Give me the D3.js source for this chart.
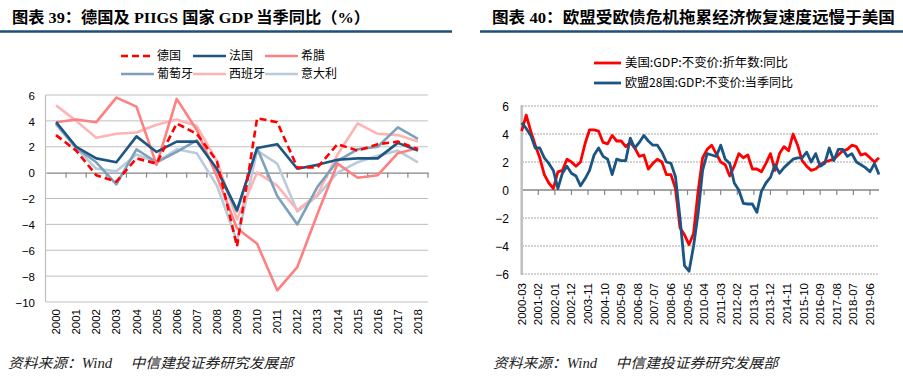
<!DOCTYPE html>
<html>
<head>
<meta charset="utf-8">
<script src="https://cdn.jsdelivr.net/npm/d3@7"></script>
<style>
body{margin:0;background:#fff;}
svg{display:block;}
text{font-family:"Liberation Sans",Arial,"Noto Sans CJK SC",sans-serif;}
</style>
</head>
<body>
<svg width="903" height="385"></svg>
<script>
//left chart: annual gdp growth, germany + piigs
var years = ['2000','2001','2002','2003','2004','2005','2006','2007','2008','2009','2010','2011','2012','2013','2014','2015','2016','2017','2018'];
var germany  = [2.9,1.7,-0.2,-0.7,1.1,0.7,3.8,3.0,0.9,-5.7,4.2,3.9,0.4,0.4,2.2,1.7,2.2,2.4,1.8];
var france   = [3.9,2.0,1.1,0.8,2.8,1.6,2.4,2.4,0.3,-2.9,1.9,2.2,0.3,0.6,1.0,1.1,1.1,2.3,1.7];
var greece   = [3.9,4.1,3.9,5.8,5.1,0.6,5.7,3.3,-0.3,-4.3,-5.5,-9.1,-7.3,-3.2,0.7,-0.4,-0.2,1.5,1.9];
var portugal = [3.8,1.9,0.8,-0.9,1.8,0.8,1.6,2.5,0.2,-3.0,1.9,-1.8,-4.0,-1.1,0.9,1.8,2.0,3.5,2.6];
var spain    = [5.2,4.0,2.7,3.0,3.1,3.7,4.1,3.6,0.9,-3.6,0.0,-1.0,-2.9,-1.7,1.4,3.8,3.0,2.9,2.4];
var italy    = [3.7,1.9,0.3,0.1,1.4,0.8,1.8,1.5,-1.0,-5.3,1.7,0.7,-3.0,-1.8,0.0,0.8,1.3,1.7,0.8];
var leftTicks = [6,4,2,0,-2,-4,-6,-8,-10];

//right chart: quarterly yoy, us vs eu28, 2000-03 .. 2019-12
var firstQuarter = '2000-03';
var usGdp = [4.2,5.35,4.2,3.2,2.3,1.1,0.5,0.1,1.3,1.4,2.2,2.0,1.7,2.0,3.3,4.3,4.3,4.2,3.4,3.3,
  3.9,3.5,3.5,3.1,3.4,3.0,2.4,2.5,1.5,1.9,2.2,2.0,1.1,1.1,0.1,-2.7,-3.2,-3.9,-3.1,-0.1,
  2.3,2.9,3.2,2.6,2.0,1.8,1.0,1.7,2.6,2.3,2.5,1.5,1.5,1.3,1.9,2.6,1.4,2.6,3.1,2.8,
  4.0,3.2,2.1,1.7,1.4,1.5,1.8,2.0,2.1,2.2,2.5,2.8,2.9,3.2,3.1,2.5,2.6,2.3,2.0,2.3];
var euGdp = [4.8,4.4,3.9,3.0,3.0,2.3,1.9,1.4,0.1,1.2,1.7,1.2,1.0,0.3,0.8,1.4,2.5,3.0,2.4,2.2,
  1.1,2.2,2.1,2.1,3.7,3.0,3.4,3.9,3.5,3.2,3.2,2.7,2.0,1.9,0.95,-2.0,-5.4,-5.8,-4.0,-1.7,
  1.4,2.6,2.5,2.4,3.2,2.2,1.9,0.5,0.0,-0.95,-1.0,-1.0,-1.6,-0.1,0.5,0.9,1.8,1.2,1.6,1.9,
  2.2,2.3,2.3,2.7,2.0,2.6,1.7,1.9,3.0,2.1,2.9,2.9,2.4,2.6,2.0,1.8,1.6,1.3,1.9,1.1];
var rightLabels = ['2000-03','2001-02','2002-01','2002-12','2003-11','2004-10','2005-09','2006-08','2007-07','2008-06','2009-05','2010-04','2011-03','2012-02','2013-01','2013-12','2014-11','2015-10','2016-09','2017-08','2018-07','2019-06'];
var rightTicks = [6,4,2,0,-2,-4,-6];

var svg = d3.select('svg');
var titleBlue = '#1F4E79';

function monthIndex(s){
	var p = s.split('-');
	var f = firstQuarter.split('-');
	return (Number(p[0]) - Number(f[0])) * 12 + Number(p[1]) - Number(f[1]);
}

//titles + underline bars
function title(txt, x, len, x1, x2){
	svg.append('text').attr('x',x).attr('y',23).attr('font-size',15.5).attr('font-weight','bold')
		.style('font-family','"Liberation Serif","Times New Roman","Noto Sans CJK SC",serif')
		.attr('textLength',len).attr('lengthAdjust','spacingAndGlyphs').text(txt);
	svg.append('line').attr('x1',x1).attr('x2',x2).attr('y1',31.5).attr('y2',31.5)
		.attr('stroke',titleBlue).attr('stroke-width',2.5);
}
title('图表 39：德国及 PIIGS 国家 GDP 当季同比（%）', 12, 358, 0, 452);
title('图表 40：欧盟受欧债危机拖累经济恢复速度远慢于美国', 492, 403, 480, 903);

//footers
function footer(x){
	svg.append('text').attr('x',x).attr('y',368).attr('font-size',14).attr('font-style','italic')
		.attr('fill','#222').style('font-family','"Liberation Serif","Noto Sans CJK SC",serif')
		.attr('textLength',285).attr('lengthAdjust','spacingAndGlyphs')
		.text('资料来源：Wind　 中信建投证券研究发展部');
}
footer(8);
footer(493);

// ---------- left chart ----------
var lx = d3.scaleBand().domain(years).range([46, 428]);
var ly = d3.scaleLinear().domain([-10, 6]).range([302, 95]);
var left = svg.append('g');

left.selectAll('.grid').data(leftTicks.filter(function(d){return d !== 0;})).enter().append('line')
	.attr('x1',46).attr('x2',428).attr('y1',function(d){return ly(d)}).attr('y2',function(d){return ly(d)})
	.attr('stroke','#BFBFBF').attr('stroke-width',1);
left.append('line').attr('x1',45.5).attr('x2',45.5).attr('y1',ly(6)).attr('y2',ly(-10))
	.attr('stroke','#BFBFBF').attr('stroke-width',1.2);

var lyAxis = d3.axisLeft(ly).tickValues(leftTicks).tickSize(0).tickPadding(0).tickFormat(d3.format('d'));
left.append('g').attr('transform','translate(35,0)').call(lyAxis)
	.call(function(g){g.select('.domain').remove();})
	.selectAll('text').attr('font-size',11.5).attr('fill','#000').attr('dy','0.36em')
	.style('font-family','"Liberation Sans",Arial,sans-serif');

//zero line with ticks between categories
var lxAxis = d3.axisBottom(lx).tickSize(0).tickFormat('');
left.append('g').attr('transform','translate(0,' + ly(0) + ')').call(lxAxis)
	.call(function(g){g.select('.domain').attr('stroke','#868686').attr('stroke-width',1.3);});
left.selectAll('.ztick').data(years.slice(1).concat(['end'])).enter().append('line')
	.attr('x1',function(d,i){return lx.range()[0] + lx.step()*(i+1)})
	.attr('x2',function(d,i){return lx.range()[0] + lx.step()*(i+1)})
	.attr('y1',ly(0)).attr('y2',ly(0)+5).attr('stroke','#868686').attr('stroke-width',1.2);

left.selectAll('.xl').data(years).enter().append('text')
	.attr('transform',function(d){return 'translate(' + (lx(d) + lx.bandwidth()/2) + ',309) rotate(-90)'})
	.attr('text-anchor','end').attr('dy','0.35em').attr('font-size',11.5).text(function(d){return d});

var leftSeries = [
	{name:'德国', vals:germany, color:'#FF0000', dash:'7,4', lx:121, ly:56},
	{name:'法国', vals:france, color:'#1F5582', dash:null, lx:193, ly:56},
	{name:'希腊', vals:greece, color:'#FF8080', dash:null, lx:265, ly:56},
	{name:'葡萄牙', vals:portugal, color:'#7FA0BC', dash:null, lx:121, ly:74},
	{name:'西班牙', vals:spain, color:'#FFB4B4', dash:null, lx:193, ly:74},
	{name:'意大利', vals:italy, color:'#B8CCDC', dash:null, lx:265, ly:74}
];
var leftLine = d3.line().x(function(d,i){return lx(years[i]) + lx.bandwidth()/2}).y(function(d){return ly(d)});

//draw back to front so germany sits on top
leftSeries.slice().reverse().forEach(function(s){
	left.append('path').datum(s.vals).attr('d',leftLine).attr('fill','none')
		.attr('stroke',s.color).attr('stroke-width',2.6).attr('stroke-linejoin','round')
		.attr('stroke-dasharray',s.dash);
});
leftSeries.forEach(function(s){
	left.append('line').attr('x1',s.lx).attr('x2',s.lx+33).attr('y1',s.ly).attr('y2',s.ly)
		.attr('stroke',s.color).attr('stroke-width',2.6).attr('stroke-dasharray',s.dash);
	left.append('text').attr('x',s.lx+36).attr('y',s.ly).attr('dy','0.36em').attr('font-size',12)
		.style('font-family','"Noto Sans CJK SC",sans-serif').text(s.name);
});

// ---------- right chart ----------
var lastMonth = monthIndex(firstQuarter) + (usGdp.length - 1) * 3;
var rx = d3.scaleLinear().domain([0, lastMonth]).range([521.7, 879]);
var ry = d3.scaleLinear().domain([-6, 6]).range([274, 106]);
var right = svg.append('g');

right.selectAll('.grid').data(rightTicks.filter(function(d){return d !== 0;})).enter().append('line')
	.attr('x1',522).attr('x2',879).attr('y1',function(d){return ry(d)}).attr('y2',function(d){return ry(d)})
	.attr('stroke','#A6A6A6').attr('stroke-width',1).attr('stroke-dasharray','2,1');
right.append('line').attr('x1',rx(0)).attr('x2',rx(lastMonth)).attr('y1',ry(0)).attr('y2',ry(0))
	.attr('stroke','#868686').attr('stroke-width',1.3);
right.selectAll('.ztick').data(rightLabels.slice(1)).enter().append('line')
	.attr('x1',function(d){return rx(monthIndex(d))}).attr('x2',function(d){return rx(monthIndex(d))})
	.attr('y1',ry(0)).attr('y2',ry(0)+5).attr('stroke','#868686').attr('stroke-width',1.2);
right.append('line').attr('x1',rx(0)).attr('x2',rx(0)).attr('y1',ry(6)-1).attr('y2',ry(-6)+1)
	.attr('stroke','#BFBFBF').attr('stroke-width',2.5);

var ryAxis = d3.axisLeft(ry).tickValues(rightTicks).tickSize(0).tickPadding(0).tickFormat(d3.format('d'));
right.append('g').attr('transform','translate(509,0)').call(ryAxis)
	.call(function(g){g.select('.domain').remove();})
	.selectAll('text').attr('font-size',12).attr('fill','#000').attr('dy','0.36em')
	.style('font-family','"Liberation Sans",Arial,sans-serif');

right.selectAll('.xl').data(rightLabels).enter().append('text')
	.attr('transform',function(d){return 'translate(' + rx(monthIndex(d)) + ',283) rotate(-90)'})
	.attr('text-anchor','end').attr('dy','0.35em').attr('font-size',11.5).text(function(d){return d});

var rightLine = d3.line().x(function(d,i){return rx(i*3)}).y(function(d){return ry(d)});
var rightSeries = [
	{name:'美国:GDP:不变价:折年数:同比', vals:usGdp, color:'#FF0000', y:63, len:163},
	{name:'欧盟28国:GDP:不变价:当季同比', vals:euGdp, color:'#1A5583', y:83, len:168}
];
rightSeries.forEach(function(s){
	right.append('path').datum(s.vals).attr('d',rightLine).attr('fill','none')
		.attr('stroke',s.color).attr('stroke-width',2.8).attr('stroke-linejoin','round');
	right.append('line').attr('x1',594).attr('x2',621).attr('y1',s.y).attr('y2',s.y)
		.attr('stroke',s.color).attr('stroke-width',2.8);
	right.append('text').attr('x',625).attr('y',s.y).attr('dy','0.36em').attr('font-size',12)
		.style('font-family','"Noto Sans CJK SC",sans-serif')
		.attr('textLength',s.len).attr('lengthAdjust','spacingAndGlyphs').text(s.name);
});
</script>
</body>
</html>
